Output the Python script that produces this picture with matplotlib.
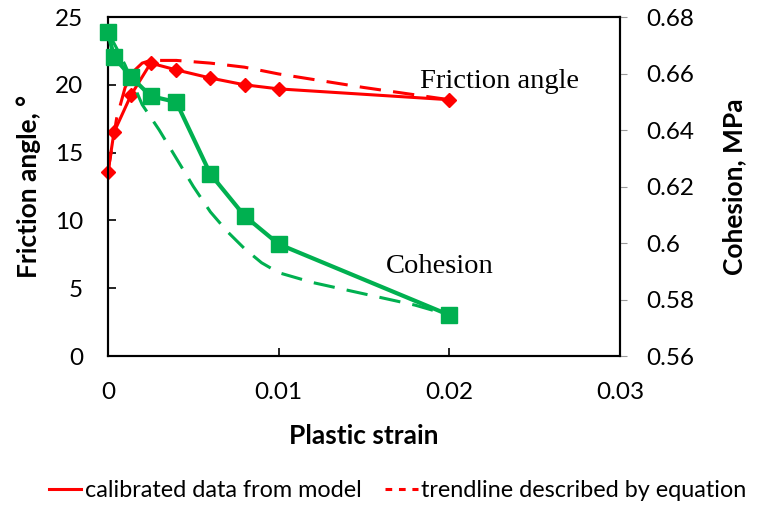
import matplotlib.pyplot as plt
from matplotlib.lines import Line2D

# calibrated data from model
strain = [0.0, 0.00035, 0.00135, 0.0025, 0.004, 0.006, 0.008, 0.01, 0.02]
friction = [13.6, 16.5, 19.25, 21.6, 21.1, 20.5, 20.0, 19.7, 18.9]
cohesion = [0.6747, 0.6658, 0.6588, 0.652, 0.6499, 0.6244, 0.6096, 0.5996, 0.5745]

# trendlines described by equation
trend_strain_f = [0.0, 0.0005, 0.001, 0.0015, 0.002, 0.0025, 0.004, 0.006, 0.008, 0.01, 0.012, 0.015, 0.02]
trend_friction = [13.6, 17.5, 19.8, 21.0, 21.6, 21.8, 21.8, 21.6, 21.3, 20.8, 20.4, 19.8, 18.9]
trend_strain_c = [0.0, 0.0005, 0.001, 0.0015, 0.002, 0.003, 0.004, 0.005, 0.006, 0.007,
                  0.008, 0.009, 0.01, 0.012, 0.015, 0.018, 0.02]
trend_cohesion = [0.6747, 0.669, 0.663, 0.656, 0.649, 0.640, 0.630, 0.620, 0.611, 0.604,
                  0.598, 0.593, 0.5895, 0.586, 0.582, 0.578, 0.5745]

RED = "#FF0000"
GREEN = "#00B050"
SANS = ["Lato", "DejaVu Sans"]

fig = plt.figure(figsize=(7.57, 5.08), dpi=100)
ax = fig.add_axes([0.1427, 0.2992, 0.819 - 0.1427, 0.9665 - 0.2992])
ax2 = ax.twinx()

ax.plot(trend_strain_f, trend_friction, color=RED, lw=2.2, ls=(0, (7, 4)), zorder=2)
ax.plot(strain, friction, color=RED, lw=2.2, marker="D", ms=7.5, zorder=3, clip_on=False)
ax2.plot(trend_strain_c, trend_cohesion, color=GREEN, lw=2.2, ls=(0, (7, 4)), zorder=2)
ax2.plot(strain, cohesion, color=GREEN, lw=3, marker="s", ms=12, zorder=3, clip_on=False)

ax.set_xlim(0, 0.03)
ax.set_ylim(0, 25)
ax2.set_ylim(0.56, 0.68)
ax.set_xticks([0, 0.01, 0.02, 0.03])
ax.set_xticklabels(["0", "0.01", "0.02", "0.03"])
ax.set_yticks([0, 5, 10, 15, 20, 25])
ax2.set_yticks([0.56, 0.58, 0.6, 0.62, 0.64, 0.66, 0.68])
ax2.set_yticklabels(["0.56", "0.58", "0.6", "0.62", "0.64", "0.66", "0.68"])

for a in (ax, ax2):
    for s in a.spines.values():
        s.set_linewidth(1.5)
        s.set_color("black")
ax.tick_params(axis="x", direction="in", length=6, width=1.2, pad=19, labelsize=17.5)
ax.tick_params(axis="y", direction="in", length=6, width=1.2, pad=18, labelsize=17.5)
ax2.tick_params(axis="y", direction="out", length=5, width=0.8, color="#999999", pad=14, labelsize=17.5)
for lab in ax.get_xticklabels() + ax.get_yticklabels() + ax2.get_yticklabels():
    lab.set_family(SANS)

ax.set_xlabel("Plastic strain", family=SANS, fontsize=19, fontweight="bold", labelpad=15)
ax.set_ylabel("Friction angle, °", family=SANS, fontsize=19, fontweight="bold", labelpad=10)
ax2.set_ylabel("Cohesion, MPa", family=SANS, fontsize=19, fontweight="bold", labelpad=20)

ax.text(0.0183, 19.8, "Friction angle", family="Liberation Serif", fontsize=20.5)
ax.text(0.0163, 6.1, "Cohesion", family="Liberation Serif", fontsize=20.5)

handles = [Line2D([], [], color=RED, lw=2.2),
           Line2D([], [], color=RED, lw=2.2, ls=(0, (2.2, 2.2)))]
fig.legend(handles, ["calibrated data from model", "trendline described by equation"],
           loc="center", bbox_to_anchor=(0.525, 0.035), ncol=2, frameon=False,
           prop={"family": SANS, "size": 16.8}, handlelength=1.4, handletextpad=0.15,
           columnspacing=1.0, borderaxespad=0, borderpad=0)

fig.savefig("out.png", dpi=100)
